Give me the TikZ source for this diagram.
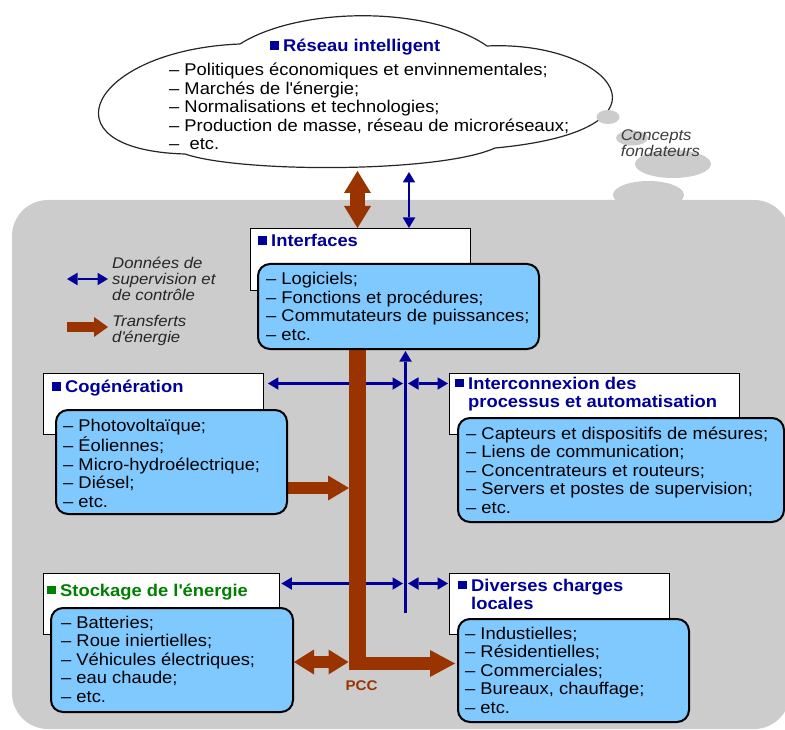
\documentclass[tikz,border=0pt]{standalone}
\usepackage{fontspec}
\setmainfont{Liberation Sans}[FakeStretch=1.08]
\usetikzlibrary{arrows.meta}
\pgfdeclarelayer{panel}
\pgfdeclarelayer{links}
\pgfsetlayers{panel,links,main}

\definecolor{bgray}{RGB}{204,204,204}
\definecolor{skyfill}{RGB}{128,201,255}
\definecolor{rust}{RGB}{153,51,0}
\definecolor{navy}{RGB}{0,0,153}
\definecolor{leaf}{RGB}{0,128,0}
\definecolor{ink}{RGB}{38,38,38}

% square bullet in front of a title
\newcommand\bulsq[1]{\textcolor{#1}{\rule[2pt]{8.5pt}{8.5pt}}\hspace{4.5pt}}
% lines stacked under the baseline of the first one
\newcommand\stack[1]{\begin{tabular}[t]{@{}l@{}}#1\end{tabular}}
\newcommand\apos{\textquotesingle}

\tikzset{
  headbox/.style={draw=black, line width=1.4pt, fill=white, inner sep=0pt, anchor=north west},
  listbox/.style={draw=black, line width=2pt, fill=skyfill, rounded corners=12pt, inner sep=0pt, anchor=north west},
  listtext/.style={anchor=base west, inner sep=0pt, font=\fontsize{17}{18.5}\selectfont},
  titletext/.style={anchor=base west, inner sep=0pt, text=navy, font=\fontsize{17}{18.4}\selectfont\bfseries},
  legendtext/.style={anchor=base west, inner sep=0pt, text=ink, font=\fontsize{15.5}{16.2}\selectfont\itshape},
  dataHead/.tip={Triangle[length=10.5pt,width=12.5pt,line width=0pt]},
  datalink/.style={draw=navy, line width=2.4pt, dataHead-dataHead},
  dataup/.style={draw=navy, line width=2.4pt, -dataHead},
}

\begin{document}
\begin{tikzpicture}[x=1pt,y=-1pt]
\useasboundingbox (0,0) rectangle (785,730);

% ---------- panel, cloud and thought bubbles ----------
\begin{pgfonlayer}{panel}
  \fill[bgray, rounded corners=36pt] (12,200) rectangle (790,729);
  \fill[bgray] (648.5,195) ellipse [x radius=35.5pt, y radius=14pt];
  \draw[line width=1.2pt, draw=ink, fill=white]
    (240,44) .. controls (300,6) and (430,6) .. (487,46)
    .. controls (610,40) and (690,130) .. (495,148)
    .. controls (440,173) and (240,173) .. (185,154)
    .. controls (40,150) and (90,50) .. cycle;
  \fill[bgray] (608,117) ellipse [x radius=11.5pt, y radius=7pt];
  \fill[bgray] (632,138) ellipse [x radius=16pt, y radius=7.5pt];
  \fill[bgray] (673,164) ellipse [x radius=38pt, y radius=14pt];
\end{pgfonlayer}

% ---------- title boxes ----------
\node[headbox, minimum width=220pt, minimum height=62pt] (ifhead) at (250,228) {};
\node[headbox, minimum width=220pt, minimum height=61pt] (cghead) at (43,373) {};
\node[headbox, minimum width=290pt, minimum height=61pt] (ichead) at (449,373) {};
\node[headbox, minimum width=236pt, minimum height=61pt] (sthead) at (43,573) {};
\node[headbox, minimum width=220pt, minimum height=61pt] (dvhead) at (449,573) {};

% ---------- list boxes ----------
\node[listbox, minimum width=281pt, minimum height=85pt] (iflist) at (257,263) {};
\node[listbox, minimum width=231pt, minimum height=104pt] (cglist) at (55,409) {};
\node[listbox, minimum width=326pt, minimum height=104pt] (iclist) at (457,417) {};
\node[listbox, minimum width=242pt, minimum height=104pt] (stlist) at (50,607) {};
\node[listbox, minimum width=231pt, minimum height=103pt] (dvlist) at (457,618) {};

% ---------- reference points of the links ----------
\coordinate (busX) at (357.5,0);
\coordinate (busfoot) at (357.5,670);
\coordinate (busturn) at (357.5,663.5);
\coordinate (cgrow) at (0,488);
\coordinate (strow) at (0,662);
\coordinate (rowA) at (0,383.5);
\coordinate (rowB) at (0,583.5);
\coordinate (dataL) at (403,0);
\coordinate (dataR) at (408,0);
\coordinate (dataend) at (405.5,613);
\coordinate (cloudlink) at (409,172);
\coordinate (cloudpower) at (357.5,171);
\coordinate (legDataA) at (67,279);
\coordinate (legDataB) at (108,279);
\coordinate (legPowA) at (67,327);
\coordinate (legPowB) at (108,327);

\begin{pgfonlayer}{links}
  % supervision and control data
  \draw[datalink] (cloudlink) -- (ifhead.north -| cloudlink);
  \draw[dataup, shorten >=1pt] (dataend) -- (iflist.south -| dataend);
  \draw[datalink, shorten <=3.5pt] (cghead.east |- rowA) -- (dataL |- rowA);
  \draw[datalink, shorten >=1pt] (dataR |- rowA) -- (ichead.west |- rowA);
  \draw[datalink, shorten <=1pt] (sthead.east |- rowB) -- (dataL |- rowB);
  \draw[datalink, shorten >=1pt] (dataR |- rowB) -- (dvhead.west |- rowB);
  % energy transfers
  \draw[rust, line width=15pt,
        {Triangle[length=22pt,width=27pt,line width=0pt]}-{Triangle[length=22pt,width=27pt,line width=0pt]}]
    (cloudpower) -- (ifhead.north -| cloudpower);
  \draw[rust, line width=17pt] (iflist.south -| busX) -- (busfoot);
  \draw[rust, line width=13pt, -{Triangle[length=25pt,width=27pt,line width=0pt]}, shorten >=2pt]
    (busturn) -- (dvlist.west |- busturn);
  \draw[rust, line width=12pt, -{Triangle[length=21pt,width=25pt,line width=0pt]}, shorten >=8.5pt]
    (cglist.east |- cgrow) -- (busX |- cgrow);
  \draw[rust, line width=12pt,
        {Triangle[length=20pt,width=25pt,line width=0pt]}-{Triangle[length=20pt,width=25pt,line width=0pt]},
        shorten >=9pt]
    (stlist.east |- strow) -- (busX |- strow);
  % legend
  \draw[datalink] (legDataA) -- (legDataB);
  \draw[rust, line width=10pt, -{Triangle[length=14pt,width=20pt,line width=0pt]}] (legPowA) -- (legPowB);
\end{pgfonlayer}

% ---------- texts ----------
\node[titletext] (cloudtitle) at (270,52) {\bulsq{navy}Réseau intelligent};
\node[listtext] (cloudlist) at (169,76) {\stack{%
  -- Politiques économiques et envinnementales;\\
  -- Marchés de l\apos énergie;\\
  -- Normalisations et technologies;\\
  -- Production de masse, réseau de microréseaux;\\
  --\ \ etc.}};
\node[legendtext, text=ink!90] (concepts) at (620.7,140.7) {\stack{Concepts\\fondateurs}};

\node[titletext] (iftitle) at (258,246.7) {\bulsq{navy}Interfaces};
\node[listtext] (iftext) at (266,285) {\stack{%
  -- Logiciels;\\
  -- Fonctions et procédures;\\
  -- Commutateurs de puissances;\\
  -- etc.}};

\node[titletext] (cgtitle) at (52,392.7) {\bulsq{navy}Cogénération};
\node[listtext] (cgtext) at (63,431.7) {\stack{%
  -- Photovoltaïque;\\
  -- Éoliennes;\\
  -- Micro-hydroélectrique;\\
  -- Diésel;\\
  -- etc.}};

\node[titletext] (ictitle) at (455,389.3) {\stack{\bulsq{navy}Interconnexion des\\
  \hspace*{13pt}processus et automatisation}};
\node[listtext] (ictext) at (466,439) {\stack{%
  -- Capteurs et dispositifs de mésures;\\
  -- Liens de communication;\\
  -- Concentrateurs et routeurs;\\
  -- Servers et postes de supervision;\\
  -- etc.}};

\node[titletext, text=leaf] (sttitle) at (47,596) {\bulsq{leaf}Stockage de l\apos énergie};
\node[listtext] (sttext) at (61,628.3) {\stack{%
  -- Batteries;\\
  -- Roue iniertielles;\\
  -- Véhicules électriques;\\
  -- eau chaude;\\
  -- etc.}};

\node[titletext] (dvtitle) at (458,591) {\stack{\bulsq{navy}Diverses charges\\
  \hspace*{13pt}locales}};
\node[listtext] (dvtext) at (465,639.3) {\stack{%
  -- Industielles;\\
  -- Résidentielles;\\
  -- Commerciales;\\
  -- Bureaux, chauffage;\\
  -- etc.}};

\node[anchor=base, inner sep=0pt, text=rust, font=\fontsize{14}{16}\selectfont\bfseries] (pcc) at (361.5,690.7) {PCC};

\node[legendtext] (legdata) at (112,268.3) {\stack{Données de\\supervision et\\de contrôle}};
\node[legendtext] (legpow) at (112,326.7) {\stack{Transferts\\d\apos énergie}};
\end{tikzpicture}
\end{document}
